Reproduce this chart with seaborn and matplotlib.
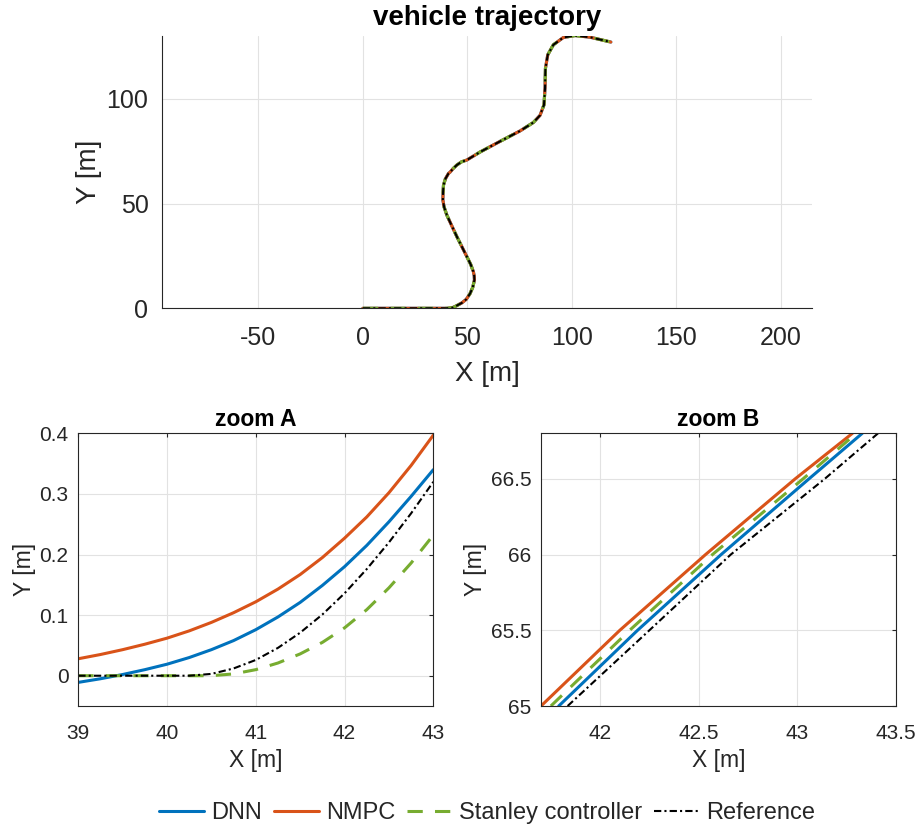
import matplotlib
matplotlib.use("Agg")
import matplotlib.pyplot as plt
import seaborn as sns

# full path (all four controllers overlap at this scale)
traj_x = [0.0, 20.0, 32.2, 38.4, 40.3, 43.0, 45.0, 47.4, 49.5, 51.3, 52.6, 53.4, 53.3,
          52.9, 51.6, 49.8, 47.4, 45.0, 42.6, 40.2, 38.9, 38.3, 38.4, 38.6, 39.5,
          41.0, 41.75, 43.3, 45.0, 47.2, 49.8, 56.1, 65.7, 75.3, 81.6, 84.8, 86.7,
          87.2, 87.4, 88.5, 91.2, 96.0, 101.6, 108.8, 118.7]
traj_y = [0.0, 0.0, 0.0, 0.0, 0.0, 0.32, 1.3, 2.6, 4.3, 7.0, 10.0, 13.5, 15.5,
          17.5, 21.0, 24.6, 29.4, 34.2, 39.3, 44.5, 48.3, 51.7, 55.5, 58.8, 61.8,
          64.4, 65.0, 66.8, 68.4, 69.9, 70.8, 74.6, 79.7, 84.7, 88.7, 92.1, 97.1,
          105.1, 114.6, 121.0, 125.8, 129.3, 130.2, 129.4, 127.1]

# zoom A window
zoomA_x = [39.0, 39.25, 39.5, 39.75, 40.0, 40.25, 40.5, 40.75, 41.0,
           41.25, 41.5, 41.75, 42.0, 42.25, 42.5, 42.75, 43.0]
zoomA_dnn = [-0.011, -0.005, 0.002, 0.010, 0.019, 0.030, 0.043, 0.058, 0.076,
             0.097, 0.121, 0.149, 0.180, 0.215, 0.254, 0.296, 0.340]
zoomA_nmpc = [0.028, 0.035, 0.043, 0.052, 0.062, 0.074, 0.088, 0.104, 0.122,
              0.143, 0.167, 0.195, 0.227, 0.262, 0.302, 0.347, 0.397]
zoomA_stanley = [0.0, 0.0, 0.0, 0.0, 0.0, 0.0, 0.0, 0.003, 0.010,
                 0.021, 0.036, 0.055, 0.079, 0.109, 0.145, 0.186, 0.232]
zoomA_ref = [0.0, 0.0, 0.0, 0.0, 0.0, 0.0, 0.003, 0.012, 0.026,
             0.046, 0.071, 0.101, 0.136, 0.176, 0.220, 0.268, 0.320]

# zoom B window (x read at fixed y levels)
zoomB_y = [65.0, 65.5, 66.0, 66.5, 66.8]
zoomB_dnn = [41.79, 42.19, 42.614, 43.06, 43.33]
zoomB_nmpc = [41.70, 42.10, 42.535, 42.99, 43.28]
zoomB_stanley = [41.75, 42.15, 42.57, 43.03, 43.30]
zoomB_ref = [41.835, 42.25, 42.663, 43.14, 43.41]

names = ["DNN", "NMPC", "Stanley controller", "Reference"]
styles = {
    "DNN": dict(color="#0072BD", linewidth=2.2, linestyle="-"),
    "NMPC": dict(color="#D95319", linewidth=2.2, linestyle="-"),
    "Stanley controller": dict(color="#77AC30", linewidth=2.2, linestyle=(0, (5, 4))),
    "Reference": dict(color="black", linewidth=1.5, linestyle=(0, (3.5, 1.5, 1, 1.5))),
}

sns.set_theme(style="white")
plt.rcParams["font.family"] = ["Liberation Sans", "DejaVu Sans"]
plt.rcParams["axes.unicode_minus"] = False
dark = "#262626"

fig = plt.figure(figsize=(9.19, 8.27), dpi=100)
ax_top = fig.add_axes([0.1766, 0.6272, 0.707, 0.3293])
ax_a = fig.add_axes([0.0852, 0.1463, 0.3863, 0.3297])
ax_b = fig.add_axes([0.5887, 0.1463, 0.3860, 0.3297])

# top: whole trajectory
for n in names:
    sns.lineplot(x=traj_x, y=traj_y, ax=ax_top, sort=False, estimator=None,
                 legend=False, label=n, solid_joinstyle="round", **styles[n])

# zoom A
zoomA = {"DNN": zoomA_dnn, "NMPC": zoomA_nmpc,
         "Stanley controller": zoomA_stanley, "Reference": zoomA_ref}
for n in names:
    sns.lineplot(x=zoomA_x, y=zoomA[n], ax=ax_a, sort=False, estimator=None,
                 legend=False, label=n, solid_joinstyle="round", **styles[n])

# zoom B
zoomB = {"DNN": zoomB_dnn, "NMPC": zoomB_nmpc,
         "Stanley controller": zoomB_stanley, "Reference": zoomB_ref}
for n in names:
    sns.lineplot(x=zoomB[n], y=zoomB_y, ax=ax_b, sort=False, estimator=None,
                 legend=False, label=n, solid_joinstyle="round", **styles[n])

ax_top.set_xlim(-96, 215)
ax_top.set_ylim(0, 130)
ax_top.set_xticks([-50, 0, 50, 100, 150, 200])
ax_top.set_yticks([0, 50, 100])
ax_top.set_title("vehicle trajectory", fontsize=20, fontweight="bold",
                 color="black", pad=8)
ax_top.set_xlabel("X [m]", fontsize=20, color=dark, labelpad=8)
ax_top.set_ylabel("Y [m]", fontsize=20, color=dark, labelpad=3)
ax_top.tick_params(axis="x", pad=13)
ax_top.tick_params(axis="y", pad=10)
ax_top.tick_params(labelsize=18, direction="in", length=4.5, width=0.8,
                   colors=dark)
ax_top.spines["top"].set_visible(False)
ax_top.spines["right"].set_visible(False)

ax_a.set_xlim(39, 43)
ax_a.set_ylim(-0.05, 0.4)
ax_a.set_xticks([39, 40, 41, 42, 43])
ax_a.set_yticks([0, 0.1, 0.2, 0.3, 0.4])
ax_a.set_yticklabels(["0", "0.1", "0.2", "0.3", "0.4"])
ax_a.set_title("zoom A", fontsize=16.5, fontweight="bold", color="black", pad=5)

ax_b.set_xlim(41.7, 43.5)
ax_b.set_ylim(65, 66.8)
ax_b.set_xticks([42, 42.5, 43, 43.5])
ax_b.set_xticklabels(["42", "42.5", "43", "43.5"])
ax_b.set_yticks([65, 65.5, 66, 66.5])
ax_b.set_yticklabels(["65", "65.5", "66", "66.5"])
ax_b.set_title("zoom B", fontsize=16.5, fontweight="bold", color="black", pad=5)

for ax in (ax_a, ax_b):
    ax.set_xlabel("X [m]", fontsize=16.5, color=dark, labelpad=4)
    ax.set_ylabel("Y [m]", fontsize=16.5, color=dark, labelpad=2.5)
    ax.tick_params(axis="x", pad=13)
    ax.tick_params(axis="y", pad=7)
    ax.tick_params(labelsize=15, direction="in", length=3, width=0.8,
                   colors=dark, top=True, right=True)

for ax in (ax_top, ax_a, ax_b):
    ax.grid(True, color="#e2e2e2", linewidth=0.8)
    ax.set_axisbelow(True)
    for s in ax.spines.values():
        s.set_color(dark)
        s.set_linewidth(0.8)

handles, labels = ax_a.get_legend_handles_labels()
fig.legend(handles, labels, loc="center", bbox_to_anchor=(0.53, 0.017), ncol=4,
           frameon=False, fontsize=17, handlelength=1.9, handletextpad=0.3,
           columnspacing=0.5)

fig.savefig("out.png", dpi=100)
